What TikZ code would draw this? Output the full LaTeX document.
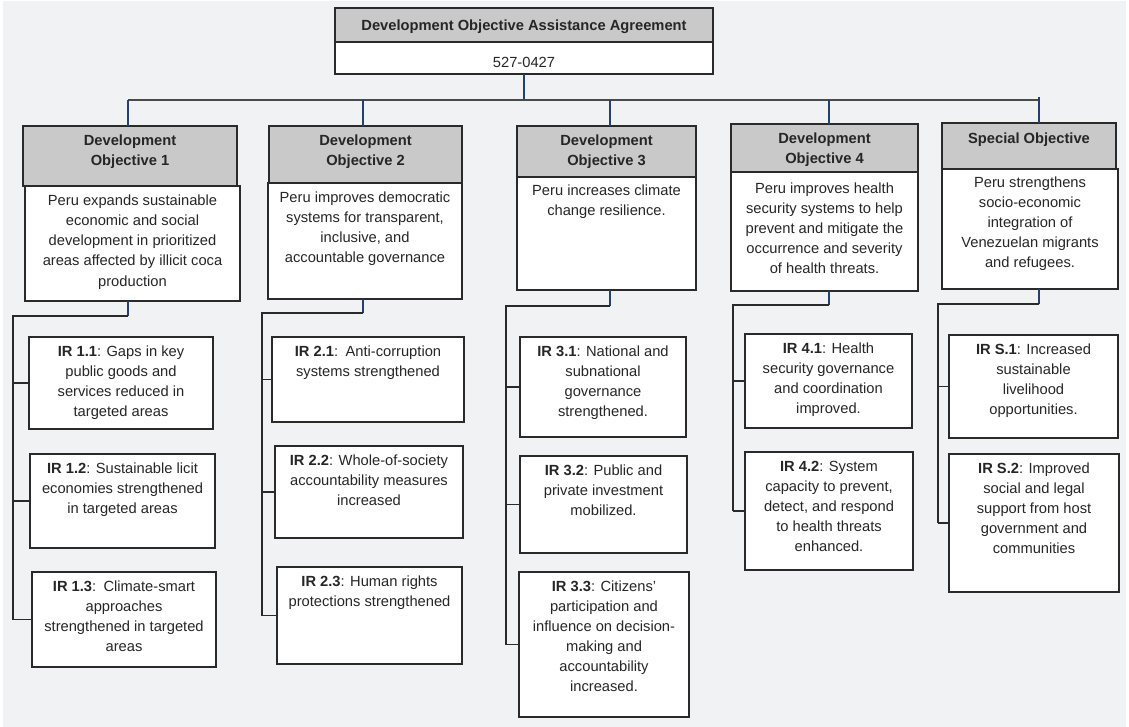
\documentclass[tikz,border=0pt]{standalone}
\usepackage{fontspec}
\setmainfont{Liberation Sans}
\definecolor{bgc}{HTML}{F1F2F4}
\definecolor{hdr}{HTML}{C9C9C9}
\definecolor{boxc}{HTML}{2A2A2A}
\definecolor{navy}{HTML}{24406E}
\definecolor{linec}{HTML}{2A2A2A}
\newcommand\bx[4]{\parbox[c][#2pt][t]{#1pt}{\centering\vspace*{#3pt}\strut #4}}
\begin{document}
\begin{tikzpicture}[x=1pt,y=-1pt,
  every node/.style={inner sep=0pt,outer sep=0pt,anchor=north west,
    font=\fontsize{14.7}{20}\selectfont, text=black!85},
  whitebox/.style={draw=boxc,fill=white,line width=1.6pt},
  graybox/.style={draw=boxc,fill=hdr,line width=1.6pt,font=\fontsize{14.7}{20}\selectfont\bfseries},
  navyline/.style={draw=navy,line width=1.3pt},
  busline/.style={draw=linec!85,line width=1.3pt},
  treeline/.style={draw=linec,line width=1.8pt}]
\useasboundingbox (0,0) rectangle (1129,727);
\fill[white] (0,0) rectangle (1129,727);
\fill[bgc] (3,1) rectangle (1126,727);

% top
\node[graybox] (title) at (335,8) {\bx{378}{34}{8.5}{Development Objective Assistance Agreement}};
\node[whitebox] (num) at (335,42) {\bx{378}{32}{12}{527-0427}};

% DO headers and bodies
\node[graybox] (h1) at (23,126) {\bx{214}{60}{5.5}{Development\\Objective 1}};
\node[whitebox] (b1) at (25,186) {\bx{215}{115}{6}{Peru expands sustainable\\economic and social\\development in prioritized\\areas affected by illicit coca\\production}};

\node[graybox] (h2) at (269,126) {\bx{193}{57}{5.5}{Development\\Objective 2}};
\node[whitebox] (b2) at (268,183) {\bx{194}{116}{5.5}{Peru improves democratic\\systems for transparent,\\inclusive, and\\accountable governance}};

\node[graybox] (h3) at (517,126) {\bx{179}{51}{6}{Development\\Objective 3}};
\node[whitebox] (b3) at (517,177) {\bx{179}{113}{5}{Peru increases climate\\change resilience.}};

\node[graybox] (h4) at (731,124) {\bx{187}{48}{6}{Development\\Objective 4}};
\node[whitebox] (b4) at (731,172) {\bx{187}{119}{7.5}{Peru improves health\\security systems to help\\prevent and mitigate the\\occurrence and severity\\of health threats.}};

\node[graybox] (h5) at (942,123) {\bx{174}{46}{7}{Special Objective}};
\node[whitebox] (b5) at (942,169) {\bx{176}{120}{5}{Peru strengthens\\socio-economic\\integration of\\Venezuelan migrants\\and refugees.}};

% IR boxes
\node[whitebox] (ir11) at (29,337) {\bx{184}{92}{5.5}{\textbf{IR 1.1}: Gaps in key\\public goods and\\services reduced in\\targeted areas}};
\node[whitebox] (ir12) at (30,454) {\bx{185}{94}{5.5}{\textbf{IR 1.2}: Sustainable licit\\economies strengthened\\in targeted areas}};
\node[whitebox] (ir13) at (32,572) {\bx{184}{95}{5.5}{\textbf{IR 1.3}:\enspace Climate-smart\\approaches\\strengthened in targeted\\areas}};

\node[whitebox] (ir21) at (272,337) {\bx{192}{85}{5.5}{\textbf{IR 2.1}:\enspace Anti-corruption\\systems strengthened}};
\node[whitebox] (ir22) at (275,446) {\bx{188}{92}{5.5}{\textbf{IR 2.2}: Whole-of-society\\accountability measures\\increased}};
\node[whitebox] (ir23) at (277,567) {\bx{185}{97}{5.5}{\textbf{IR 2.3}: Human rights\\protections strengthened}};

\node[whitebox] (ir31) at (520,337) {\bx{166}{100}{5.5}{\textbf{IR 3.1}: National and\\subnational\\governance\\strengthened.}};
\node[whitebox] (ir32) at (520,456) {\bx{167}{97}{5.5}{\textbf{IR 3.2}: Public and\\private investment\\mobilized.}};
\node[whitebox] (ir33) at (519,572) {\bx{170}{145}{5.5}{\textbf{IR 3.3}: Citizens’\\participation and\\influence on decision-\\making and\\accountability\\increased.}};

\node[whitebox] (ir41) at (745,334) {\bx{167}{94}{5.5}{\textbf{IR 4.1}: Health\\security governance\\and coordination\\improved.}};
\node[whitebox] (ir42) at (745,452) {\bx{168}{118}{5.5}{\textbf{IR 4.2}: System\\capacity to prevent,\\detect, and respond\\to health threats\\enhanced.}};

\node[whitebox] (irs1) at (949,335) {\bx{169}{103}{5.5}{\textbf{IR S.1}: Increased\\sustainable\\livelihood\\opportunities.}};
\node[whitebox] (irs2) at (949,454) {\bx{170}{138}{5.5}{\textbf{IR S.2}: Improved\\social and legal\\support from host\\government and\\communities}};

% bus
\coordinate (bus) at (525,100);
\coordinate (t1) at (128,100);
\coordinate (t2) at (363,100);
\coordinate (t3) at (610,100);
\coordinate (t4) at (829,100);
\coordinate (t5) at (1039,100);
\draw[navyline] (num.south) -- (num.south |- bus);
\draw[busline] (t1) -- (t5);
\draw[navyline] (t1) -- (t1 |- h1.north);
\draw[navyline] (t2) -- (t2 |- h2.north);
\draw[navyline] (t3) -- (t3 |- h3.north);
\draw[navyline] (t4) -- (t4 |- h4.north);
\draw[navyline] ([yshift=3pt]t5) -- (t5 |- h5.north);

% lower trees
\coordinate (e1) at (128,316); \coordinate (r1) at (13,316);
\coordinate (e2) at (363,313); \coordinate (r2) at (262,313);
\coordinate (e3) at (610,306); \coordinate (r3) at (506,306);
\coordinate (e4) at (829,305); \coordinate (r4) at (733,305);
\coordinate (e5) at (1039,304); \coordinate (r5) at (938,304);

\draw[navyline] (e1 |- b1.south) -- (e1);
\draw[treeline] (e1) -- (r1) -- (r1 |- ir13.west);
\draw[treeline] (r1 |- ir11.west) -- (ir11.west);
\draw[treeline] (r1 |- ir12.west) -- (ir12.west);
\draw[treeline] (r1 |- ir13.west) -- (ir13.west);

\draw[navyline] (e2 |- b2.south) -- (e2);
\draw[treeline] (e2) -- (r2) -- (r2 |- ir23.west);
\draw[treeline] (r2 |- ir21.west) -- (ir21.west);
\draw[treeline] (r2 |- ir22.west) -- (ir22.west);
\draw[treeline] (r2 |- ir23.west) -- (ir23.west);

\draw[navyline] (e3 |- b3.south) -- (e3);
\draw[treeline] (e3) -- (r3) -- (r3 |- ir33.west);
\draw[treeline] (r3 |- ir31.west) -- (ir31.west);
\draw[treeline] (r3 |- ir32.west) -- (ir32.west);
\draw[treeline] (r3 |- ir33.west) -- (ir33.west);

\draw[navyline] (e4 |- b4.south) -- (e4);
\draw[treeline] (e4) -- (r4) -- (r4 |- ir42.west);
\draw[treeline] (r4 |- ir41.west) -- (ir41.west);
\draw[treeline] (r4 |- ir42.west) -- (ir42.west);

\draw[navyline] (e5 |- b5.south) -- (e5);
\draw[treeline] (e5) -- (r5) -- (r5 |- irs2.west);
\draw[treeline] (r5 |- irs1.west) -- (irs1.west);
\draw[treeline] (r5 |- irs2.west) -- (irs2.west);
\end{tikzpicture}
\end{document}
